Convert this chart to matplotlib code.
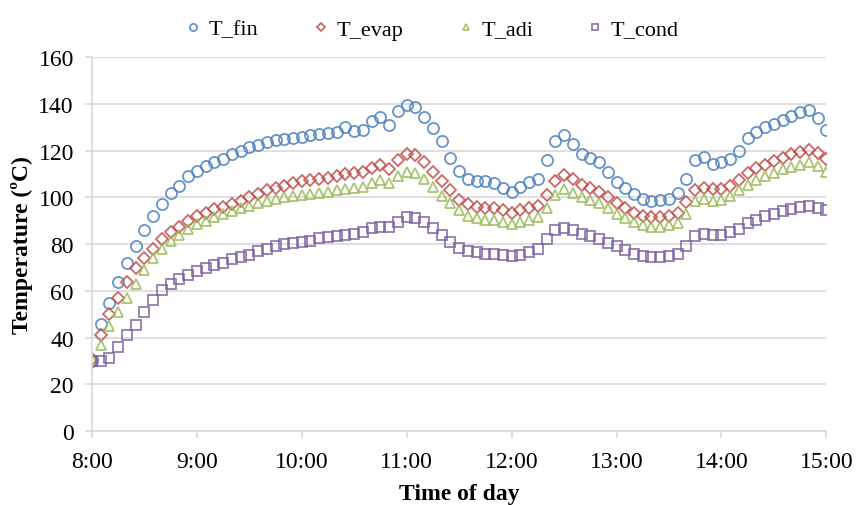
import matplotlib
matplotlib.use("Agg")
import matplotlib.pyplot as plt
import matplotlib.dates as mdates
from datetime import datetime, timedelta

# readings every 5 minutes, 8:00 to 15:00
t_fin = [30, 46, 55, 64, 72, 79, 86, 92, 97, 102, 105, 109,
         111.5, 113.5, 115, 116.5, 118.5, 120, 121.5, 122.5, 123.5, 124.5, 125, 125.5,
         126, 126.5, 127, 127.5, 128, 130, 128.5, 129, 132.5, 134.5, 131, 137,
         139.5, 138.5, 134.5, 129.5, 124, 117, 111.5, 108, 107, 107, 106, 104,
         102.5, 104.5, 106.5, 108, 116, 124, 126.5, 123, 118.5, 117, 115, 111,
         106.5, 104, 101.5, 99.5, 98.5, 99, 99.5, 102, 108, 116, 117.5, 114.5,
         115, 116.5, 120, 125.5, 128, 130, 131.5, 133, 135, 136.5, 137.5, 134,
         129]
t_evap = [31, 41, 50, 57, 64, 70, 74, 78, 82, 85, 87.5, 90,
          92, 93.5, 95, 96, 97, 98.5, 100, 101.5, 103, 104, 105, 106,
          107, 107.5, 108, 108.5, 109, 110, 110.5, 111, 112.5, 114, 112, 116,
          118.5, 118, 115, 111, 107, 103, 99, 97, 96, 95.5, 95.5, 94.5,
          93.5, 94.5, 95.5, 96.5, 101, 107, 109.5, 108, 105.5, 104, 102.5, 100,
          97.5, 95.5, 93.5, 92, 91.5, 91.5, 92, 93.5, 98, 103, 104, 103.5,
          103.5, 105, 107.5, 110.5, 112.5, 114, 115.5, 117, 118.5, 119.5, 120.5, 119,
          116.5]
t_adi = [31, 37, 45, 51, 57, 63, 69, 74, 78, 81.5, 84, 86.5,
         88.5, 90, 91.5, 93, 94, 95.5, 96.5, 97.5, 98.5, 99.5, 100, 100.5,
         101, 101.5, 102, 102.5, 103, 103.5, 104, 104.5, 106, 107.5, 106, 109,
         111, 110.5, 108, 104.5, 100.5, 97.5, 94.5, 92, 91, 90.5, 90.5, 89.5,
         88.5, 89.5, 90.5, 91.5, 95.5, 101, 103.5, 102, 100, 99, 97.5, 95.5,
         93, 91, 89.5, 88, 87.5, 87.5, 88, 89, 93, 98.5, 99.5, 98.5,
         99, 100.5, 103, 105.5, 107.5, 109, 110.5, 112, 113, 114, 115, 113.5,
         111]
t_cond = [30, 30, 31.5, 36, 41, 45.5, 51, 56, 60.5, 63, 65, 67,
          68.5, 70, 71, 72, 73.5, 74.5, 75.5, 77, 78, 79, 80, 80.5,
          81, 81.5, 82.5, 83, 83.5, 84, 84.5, 85, 87, 87.5, 87.5, 89.5,
          91.5, 91, 89.5, 87, 84, 81, 78.5, 77, 76.5, 76, 76, 75.5,
          75, 75.5, 76.5, 78, 82, 86, 87, 86, 84.5, 83.5, 82, 80.5,
          79, 77.5, 76, 75, 74.5, 74.5, 75, 76, 79, 83.5, 84.5, 84,
          84, 85, 86.5, 89, 90.5, 92, 93, 94, 95, 96, 96.5, 95.5,
          94.5]

series = [("T_fin", t_fin, "o", "#4F81BD", 8),
          ("T_evap", t_evap, "D", "#C0504D", 6.5),
          ("T_adi", t_adi, "^", "#9BBB59", 7),
          ("T_cond", t_cond, "s", "#8064A2", 7.5)]

start = datetime(2014, 1, 1, 8, 0)
times = [start + timedelta(minutes=5 * i) for i in range(len(t_fin))]

plt.rcParams['font.family'] = ['Liberation Serif', 'DejaVu Serif']
fig = plt.figure(figsize=(8.59, 5.06), dpi=100)
ax = fig.add_axes([0.107, 0.146, 0.855, 0.739])

for name, vals, mk, col, ms in series:
    ax.plot(times, vals, linestyle="none", marker=mk, markersize=ms,
            markerfacecolor="none", markeredgecolor=col, markeredgewidth=1.3,
            alpha=0.85, label=name)

ax.set_xlim(start, start + timedelta(hours=7))
ax.set_ylim(0, 160)
ax.set_yticks(range(0, 161, 20))
ax.xaxis.set_major_locator(mdates.HourLocator())
ax.xaxis.set_major_formatter(mdates.DateFormatter('%-H:%M'))

ax.grid(axis='y', color='#D9D9D9', linewidth=1.2)
ax.set_axisbelow(True)
for s in ['top', 'right']:
    ax.spines[s].set_visible(False)
for s in ['left', 'bottom']:
    ax.spines[s].set_color('#D9D9D9')
    ax.spines[s].set_linewidth(1.2)
ax.tick_params(axis='both', colors='#D9D9D9', labelcolor='black',
               labelsize=17, length=5, width=1.2)
ax.tick_params(axis='y', pad=8)
ax.tick_params(axis='x', pad=9)

ax.set_xlabel('Time of day', fontsize=17, fontweight='bold', labelpad=8)
ax.set_ylabel('Temperature (ºC)', fontsize=17, fontweight='bold', labelpad=4)

leg = fig.legend(loc='upper center', bbox_to_anchor=(0.5, 1.0), ncol=4,
                 frameon=False, fontsize=16, markerscale=0.65,
                 handletextpad=0.1, columnspacing=2.2, handlelength=1.2)

fig.savefig('out.png', dpi=100)
